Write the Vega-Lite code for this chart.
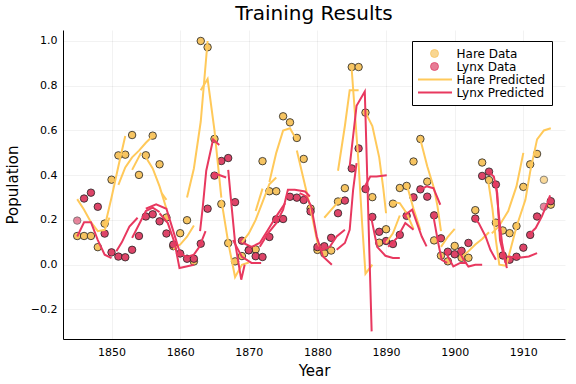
{
  "$schema": "https://vega.github.io/schema/vega-lite/v6.json",
  "width": 502,
  "height": 309,
  "autosize": "none",
  "padding": {"left": 63, "top": 30, "right": 11, "bottom": 45},
  "title": {"text": "Training Results", "fontSize": 20, "fontWeight": "normal", "font": "DejaVu Sans", "offset": 6, "color": "#000"},
  "config": {
    "view": {"stroke": null},
    "font": "DejaVu Sans",
    "axis": {
      "labelFont": "DejaVu Sans", "titleFont": "DejaVu Sans",
      "labelFontSize": 11, "titleFontSize": 15, "titleFontWeight": "normal",
      "labelColor": "#000", "titleColor": "#000",
      "domainColor": "#000", "domainWidth": 1,
      "ticks": false,
      "gridColor": "#000", "gridOpacity": 0.1, "gridWidth": 0.5
    }
  },
  "datasets": {
    "obs": [
      {"Year":1845,"Value":0.1283,"Series":"Hare Data"},{"Year":1846,"Value":0.1284,"Series":"Hare Data"},{"Year":1847,"Value":0.1285,"Series":"Hare Data"},{"Year":1848,"Value":0.0785,"Series":"Hare Data"},{"Year":1849,"Value":0.1837,"Series":"Hare Data"},{"Year":1850,"Value":0.380,"Series":"Hare Data"},{"Year":1851,"Value":0.4887,"Series":"Hare Data"},{"Year":1852,"Value":0.4919,"Series":"Hare Data"},{"Year":1853,"Value":0.5796,"Series":"Hare Data"},{"Year":1854,"Value":0.4014,"Series":"Hare Data"},{"Year":1855,"Value":0.4892,"Series":"Hare Data"},{"Year":1856,"Value":0.5769,"Series":"Hare Data"},{"Year":1857,"Value":0.4488,"Series":"Hare Data"},{"Year":1858,"Value":0.2109,"Series":"Hare Data"},{"Year":1859,"Value":0.0828,"Series":"Hare Data"},{"Year":1860,"Value":0.1408,"Series":"Hare Data"},{"Year":1861,"Value":0.1988,"Series":"Hare Data"},{"Year":1862,"Value":0.0143,"Series":"Hare Data"},{"Year":1863,"Value":1.0,"Series":"Hare Data"},{"Year":1864,"Value":0.9719,"Series":"Hare Data"},{"Year":1865,"Value":0.5621,"Series":"Hare Data"},{"Year":1866,"Value":0.2713,"Series":"Hare Data"},{"Year":1867,"Value":0.0966,"Series":"Hare Data"},{"Year":1868,"Value":0.0149,"Series":"Hare Data"},{"Year":1869,"Value":0.0387,"Series":"Hare Data"},{"Year":1870,"Value":0.0652,"Series":"Hare Data"},{"Year":1871,"Value":0.0684,"Series":"Hare Data"},{"Year":1872,"Value":0.4628,"Series":"Hare Data"},{"Year":1873,"Value":0.3283,"Series":"Hare Data"},{"Year":1874,"Value":0.3284,"Series":"Hare Data"},{"Year":1875,"Value":0.6633,"Series":"Hare Data"},{"Year":1876,"Value":0.6362,"Series":"Hare Data"},{"Year":1877,"Value":0.5667,"Series":"Hare Data"},{"Year":1878,"Value":0.4728,"Series":"Hare Data"},{"Year":1879,"Value":0.2510,"Series":"Hare Data"},{"Year":1880,"Value":0.0662,"Series":"Hare Data"},{"Year":1881,"Value":0.0507,"Series":"Hare Data"},{"Year":1882,"Value":0.0633,"Series":"Hare Data"},{"Year":1883,"Value":0.2825,"Series":"Hare Data"},{"Year":1884,"Value":0.3420,"Series":"Hare Data"},{"Year":1885,"Value":0.8834,"Series":"Hare Data"},{"Year":1886,"Value":0.8835,"Series":"Hare Data"},{"Year":1887,"Value":0.6799,"Series":"Hare Data"},{"Year":1888,"Value":0.3020,"Series":"Hare Data"},{"Year":1889,"Value":0.0985,"Series":"Hare Data"},{"Year":1890,"Value":0.1585,"Series":"Hare Data"},{"Year":1891,"Value":0.2728,"Series":"Hare Data"},{"Year":1892,"Value":0.3429,"Series":"Hare Data"},{"Year":1893,"Value":0.3523,"Series":"Hare Data"},{"Year":1894,"Value":0.4612,"Series":"Hare Data"},{"Year":1895,"Value":0.5621,"Series":"Hare Data"},{"Year":1896,"Value":0.3714,"Series":"Hare Data"},{"Year":1897,"Value":0.1087,"Series":"Hare Data"},{"Year":1898,"Value":0.0404,"Series":"Hare Data"},{"Year":1899,"Value":0.0151,"Series":"Hare Data"},{"Year":1900,"Value":0.0840,"Series":"Hare Data"},{"Year":1901,"Value":0.0309,"Series":"Hare Data"},{"Year":1902,"Value":0.0310,"Series":"Hare Data"},{"Year":1903,"Value":0.2438,"Series":"Hare Data"},{"Year":1904,"Value":0.4567,"Series":"Hare Data"},{"Year":1905,"Value":0.3785,"Series":"Hare Data"},{"Year":1906,"Value":0.1879,"Series":"Hare Data"},{"Year":1907,"Value":0.1531,"Series":"Hare Data"},{"Year":1908,"Value":0.1411,"Series":"Hare Data"},{"Year":1909,"Value":0.1726,"Series":"Hare Data"},{"Year":1910,"Value":0.3479,"Series":"Hare Data"},{"Year":1911,"Value":0.4486,"Series":"Hare Data"},{"Year":1912,"Value":0.4951,"Series":"Hare Data"},{"Year":1913,"Value":0.3794,"Series":"Hare Data"},{"Year":1914,"Value":0.2684,"Series":"Hare Data"},
      {"Year":1845,"Value":0.1971,"Series":"Lynx Data"},{"Year":1846,"Value":0.2958,"Series":"Lynx Data"},{"Year":1847,"Value":0.3220,"Series":"Lynx Data"},{"Year":1848,"Value":0.2589,"Series":"Lynx Data"},{"Year":1849,"Value":0.1391,"Series":"Lynx Data"},{"Year":1850,"Value":0.0552,"Series":"Lynx Data"},{"Year":1851,"Value":0.0364,"Series":"Lynx Data"},{"Year":1852,"Value":0.0333,"Series":"Lynx Data"},{"Year":1853,"Value":0.0666,"Series":"Lynx Data"},{"Year":1854,"Value":0.1284,"Series":"Lynx Data"},{"Year":1855,"Value":0.2156,"Series":"Lynx Data"},{"Year":1856,"Value":0.2252,"Series":"Lynx Data"},{"Year":1857,"Value":0.1938,"Series":"Lynx Data"},{"Year":1858,"Value":0.1395,"Series":"Lynx Data"},{"Year":1859,"Value":0.0897,"Series":"Lynx Data"},{"Year":1860,"Value":0.0501,"Series":"Lynx Data"},{"Year":1861,"Value":0.0267,"Series":"Lynx Data"},{"Year":1862,"Value":0.0268,"Series":"Lynx Data"},{"Year":1863,"Value":0.0939,"Series":"Lynx Data"},{"Year":1864,"Value":0.2504,"Series":"Lynx Data"},{"Year":1865,"Value":0.3982,"Series":"Lynx Data"},{"Year":1866,"Value":0.4636,"Series":"Lynx Data"},{"Year":1867,"Value":0.4767,"Series":"Lynx Data"},{"Year":1868,"Value":0.2796,"Series":"Lynx Data"},{"Year":1869,"Value":0.1074,"Series":"Lynx Data"},{"Year":1870,"Value":0.0644,"Series":"Lynx Data"},{"Year":1871,"Value":0.0380,"Series":"Lynx Data"},{"Year":1872,"Value":0.0345,"Series":"Lynx Data"},{"Year":1873,"Value":0.1239,"Series":"Lynx Data"},{"Year":1874,"Value":0.2028,"Series":"Lynx Data"},{"Year":1875,"Value":0.2043,"Series":"Lynx Data"},{"Year":1876,"Value":0.3036,"Series":"Lynx Data"},{"Year":1877,"Value":0.2998,"Series":"Lynx Data"},{"Year":1878,"Value":0.2892,"Series":"Lynx Data"},{"Year":1879,"Value":0.2380,"Series":"Lynx Data"},{"Year":1880,"Value":0.0788,"Series":"Lynx Data"},{"Year":1881,"Value":0.0825,"Series":"Lynx Data"},{"Year":1882,"Value":0.1201,"Series":"Lynx Data"},{"Year":1883,"Value":0.2302,"Series":"Lynx Data"},{"Year":1884,"Value":0.2867,"Series":"Lynx Data"},{"Year":1885,"Value":0.4303,"Series":"Lynx Data"},{"Year":1886,"Value":0.5198,"Series":"Lynx Data"},{"Year":1887,"Value":0.3384,"Series":"Lynx Data"},{"Year":1888,"Value":0.2135,"Series":"Lynx Data"},{"Year":1889,"Value":0.1471,"Series":"Lynx Data"},{"Year":1890,"Value":0.1059,"Series":"Lynx Data"},{"Year":1891,"Value":0.0925,"Series":"Lynx Data"},{"Year":1892,"Value":0.1335,"Series":"Lynx Data"},{"Year":1893,"Value":0.2183,"Series":"Lynx Data"},{"Year":1894,"Value":0.3013,"Series":"Lynx Data"},{"Year":1895,"Value":0.3368,"Series":"Lynx Data"},{"Year":1896,"Value":0.3042,"Series":"Lynx Data"},{"Year":1897,"Value":0.2206,"Series":"Lynx Data"},{"Year":1898,"Value":0.1180,"Series":"Lynx Data"},{"Year":1899,"Value":0.0580,"Series":"Lynx Data"},{"Year":1900,"Value":0.0467,"Series":"Lynx Data"},{"Year":1901,"Value":0.0620,"Series":"Lynx Data"},{"Year":1902,"Value":0.0973,"Series":"Lynx Data"},{"Year":1903,"Value":0.2062,"Series":"Lynx Data"},{"Year":1904,"Value":0.3968,"Series":"Lynx Data"},{"Year":1905,"Value":0.4160,"Series":"Lynx Data"},{"Year":1906,"Value":0.3583,"Series":"Lynx Data"},{"Year":1907,"Value":0.0413,"Series":"Lynx Data"},{"Year":1908,"Value":0.0223,"Series":"Lynx Data"},{"Year":1909,"Value":0.0356,"Series":"Lynx Data"},{"Year":1910,"Value":0.0763,"Series":"Lynx Data"},{"Year":1911,"Value":0.1333,"Series":"Lynx Data"},{"Year":1912,"Value":0.2154,"Series":"Lynx Data"},{"Year":1913,"Value":0.2591,"Series":"Lynx Data"},{"Year":1914,"Value":0.2840,"Series":"Lynx Data"}
    ],
    "pred": [
      {"seg":"h1","Year":1845,"Value":0.293,"Series":"Hare Predicted"},{"seg":"h1","Year":1846,"Value":0.246,"Series":"Hare Predicted"},{"seg":"h1","Year":1847,"Value":0.19,"Series":"Hare Predicted"},{"seg":"h1","Year":1848,"Value":0.15,"Series":"Hare Predicted"},{"seg":"h1","Year":1849,"Value":0.156,"Series":"Hare Predicted"},{"seg":"h1","Year":1849.7,"Value":0.21,"Series":"Hare Predicted"},
      {"seg":"h2","Year":1849,"Value":0.17,"Series":"Hare Predicted"},{"seg":"h2","Year":1850,"Value":0.30,"Series":"Hare Predicted"},{"seg":"h2","Year":1851,"Value":0.44,"Series":"Hare Predicted"},{"seg":"h2","Year":1852,"Value":0.575,"Series":"Hare Predicted"},
      {"seg":"h3","Year":1851,"Value":0.357,"Series":"Hare Predicted"},{"seg":"h3","Year":1852,"Value":0.435,"Series":"Hare Predicted"},{"seg":"h3","Year":1853,"Value":0.48,"Series":"Hare Predicted"},{"seg":"h3","Year":1854,"Value":0.51,"Series":"Hare Predicted"},{"seg":"h3","Year":1855,"Value":0.545,"Series":"Hare Predicted"},{"seg":"h3","Year":1856,"Value":0.575,"Series":"Hare Predicted"},
      {"seg":"h3b","Year":1853,"Value":0.424,"Series":"Hare Predicted"},{"seg":"h3b","Year":1854.3,"Value":0.50,"Series":"Hare Predicted"},
      {"seg":"h4","Year":1855,"Value":0.48,"Series":"Hare Predicted"},{"seg":"h4","Year":1856,"Value":0.43,"Series":"Hare Predicted"},{"seg":"h4","Year":1857,"Value":0.35,"Series":"Hare Predicted"},{"seg":"h4","Year":1858,"Value":0.25,"Series":"Hare Predicted"},
      {"seg":"h5","Year":1857.3,"Value":0.32,"Series":"Hare Predicted"},{"seg":"h5","Year":1858,"Value":0.29,"Series":"Hare Predicted"},
      {"seg":"h6","Year":1859,"Value":0.07,"Series":"Hare Predicted"},{"seg":"h6","Year":1860,"Value":0.09,"Series":"Hare Predicted"},{"seg":"h6","Year":1861,"Value":0.125,"Series":"Hare Predicted"},{"seg":"h6","Year":1862,"Value":0.175,"Series":"Hare Predicted"},
      {"seg":"h7","Year":1861,"Value":0.30,"Series":"Hare Predicted"},{"seg":"h7","Year":1862,"Value":0.43,"Series":"Hare Predicted"},{"seg":"h7","Year":1863,"Value":0.64,"Series":"Hare Predicted"},{"seg":"h7","Year":1864,"Value":1.0,"Series":"Hare Predicted"},
      {"seg":"h8","Year":1863,"Value":0.78,"Series":"Hare Predicted"},{"seg":"h8","Year":1864,"Value":0.83,"Series":"Hare Predicted"},{"seg":"h8","Year":1865,"Value":0.60,"Series":"Hare Predicted"},{"seg":"h8","Year":1866,"Value":0.30,"Series":"Hare Predicted"},
      {"seg":"h9","Year":1866,"Value":0.29,"Series":"Hare Predicted"},{"seg":"h9","Year":1867,"Value":0.10,"Series":"Hare Predicted"},{"seg":"h9","Year":1868,"Value":-0.055,"Series":"Hare Predicted"},{"seg":"h9","Year":1869,"Value":0.0,"Series":"Hare Predicted"},{"seg":"h9","Year":1870,"Value":0.01,"Series":"Hare Predicted"},
      {"seg":"h10","Year":1869,"Value":0.10,"Series":"Hare Predicted"},{"seg":"h10","Year":1870,"Value":0.14,"Series":"Hare Predicted"},{"seg":"h10","Year":1871,"Value":0.20,"Series":"Hare Predicted"},{"seg":"h10","Year":1872,"Value":0.28,"Series":"Hare Predicted"},{"seg":"h10","Year":1873,"Value":0.36,"Series":"Hare Predicted"},{"seg":"h10","Year":1874,"Value":0.39,"Series":"Hare Predicted"},
      {"seg":"h10b","Year":1871,"Value":0.24,"Series":"Hare Predicted"},{"seg":"h10b","Year":1872,"Value":0.34,"Series":"Hare Predicted"},
      {"seg":"h11","Year":1873,"Value":0.37,"Series":"Hare Predicted"},{"seg":"h11","Year":1874,"Value":0.50,"Series":"Hare Predicted"},{"seg":"h11","Year":1875,"Value":0.60,"Series":"Hare Predicted"},{"seg":"h11","Year":1876,"Value":0.61,"Series":"Hare Predicted"},{"seg":"h11","Year":1877,"Value":0.555,"Series":"Hare Predicted"},
      {"seg":"h12","Year":1877,"Value":0.51,"Series":"Hare Predicted"},{"seg":"h12","Year":1878,"Value":0.38,"Series":"Hare Predicted"},{"seg":"h12","Year":1879,"Value":0.25,"Series":"Hare Predicted"},{"seg":"h12","Year":1880,"Value":0.10,"Series":"Hare Predicted"},{"seg":"h12","Year":1880.5,"Value":0.07,"Series":"Hare Predicted"},
      {"seg":"h13","Year":1881,"Value":0.21,"Series":"Hare Predicted"},{"seg":"h13","Year":1882,"Value":0.245,"Series":"Hare Predicted"},{"seg":"h13","Year":1883,"Value":0.28,"Series":"Hare Predicted"},{"seg":"h13","Year":1883.5,"Value":0.30,"Series":"Hare Predicted"},
      {"seg":"h14","Year":1883,"Value":0.42,"Series":"Hare Predicted"},{"seg":"h14","Year":1884,"Value":0.62,"Series":"Hare Predicted"},{"seg":"h14","Year":1884.7,"Value":0.78,"Series":"Hare Predicted"},{"seg":"h14","Year":1886,"Value":0.78,"Series":"Hare Predicted"},
      {"seg":"h15","Year":1885,"Value":0.87,"Series":"Hare Predicted"},{"seg":"h15","Year":1886,"Value":0.45,"Series":"Hare Predicted"},{"seg":"h15","Year":1886.5,"Value":0.19,"Series":"Hare Predicted"},{"seg":"h15","Year":1887,"Value":-0.04,"Series":"Hare Predicted"},{"seg":"h15","Year":1888,"Value":0.0,"Series":"Hare Predicted"},
      {"seg":"h16","Year":1887,"Value":0.68,"Series":"Hare Predicted"},{"seg":"h16","Year":1888,"Value":0.62,"Series":"Hare Predicted"},{"seg":"h16","Year":1889,"Value":0.48,"Series":"Hare Predicted"},{"seg":"h16","Year":1889.6,"Value":0.34,"Series":"Hare Predicted"},{"seg":"h16","Year":1890,"Value":0.23,"Series":"Hare Predicted"},
      {"seg":"h17","Year":1890,"Value":0.097,"Series":"Hare Predicted"},{"seg":"h17","Year":1891,"Value":0.14,"Series":"Hare Predicted"},{"seg":"h17","Year":1892,"Value":0.22,"Series":"Hare Predicted"},
      {"seg":"h18","Year":1891,"Value":0.28,"Series":"Hare Predicted"},{"seg":"h18","Year":1892,"Value":0.275,"Series":"Hare Predicted"},{"seg":"h18","Year":1893,"Value":0.23,"Series":"Hare Predicted"},{"seg":"h18","Year":1894,"Value":0.16,"Series":"Hare Predicted"},
      {"seg":"h19","Year":1893,"Value":0.36,"Series":"Hare Predicted"},{"seg":"h19","Year":1894,"Value":0.25,"Series":"Hare Predicted"},{"seg":"h19","Year":1895,"Value":0.155,"Series":"Hare Predicted"},
      {"seg":"h20","Year":1895,"Value":0.56,"Series":"Hare Predicted"},{"seg":"h20","Year":1896,"Value":0.44,"Series":"Hare Predicted"},{"seg":"h20","Year":1897,"Value":0.34,"Series":"Hare Predicted"},{"seg":"h20","Year":1897.5,"Value":0.26,"Series":"Hare Predicted"},{"seg":"h20","Year":1898,"Value":0.15,"Series":"Hare Predicted"},
      {"seg":"h21","Year":1898,"Value":0.08,"Series":"Hare Predicted"},{"seg":"h21","Year":1899,"Value":0.125,"Series":"Hare Predicted"},{"seg":"h21","Year":1900,"Value":0.16,"Series":"Hare Predicted"},
      {"seg":"h22","Year":1901,"Value":0.035,"Series":"Hare Predicted"},{"seg":"h22","Year":1902,"Value":0.06,"Series":"Hare Predicted"},{"seg":"h22","Year":1903,"Value":0.09,"Series":"Hare Predicted"},{"seg":"h22","Year":1904,"Value":0.115,"Series":"Hare Predicted"},{"seg":"h22","Year":1905,"Value":0.145,"Series":"Hare Predicted"},
      {"seg":"h23","Year":1905.4,"Value":0.14,"Series":"Hare Predicted"},{"seg":"h23","Year":1906.4,"Value":0.17,"Series":"Hare Predicted"},{"seg":"h23","Year":1907.8,"Value":0.24,"Series":"Hare Predicted"},{"seg":"h23","Year":1909,"Value":0.35,"Series":"Hare Predicted"},{"seg":"h23","Year":1910,"Value":0.50,"Series":"Hare Predicted"},
      {"seg":"h24","Year":1904.9,"Value":0.37,"Series":"Hare Predicted"},{"seg":"h24","Year":1905.5,"Value":0.25,"Series":"Hare Predicted"},{"seg":"h24","Year":1906,"Value":0.11,"Series":"Hare Predicted"},{"seg":"h24","Year":1906.5,"Value":0.0,"Series":"Hare Predicted"},{"seg":"h24","Year":1907.5,"Value":-0.005,"Series":"Hare Predicted"},
      {"seg":"h25","Year":1907.5,"Value":-0.005,"Series":"Hare Predicted"},{"seg":"h25","Year":1909,"Value":0.17,"Series":"Hare Predicted"},{"seg":"h25","Year":1910.3,"Value":0.29,"Series":"Hare Predicted"},{"seg":"h25","Year":1911,"Value":0.416,"Series":"Hare Predicted"},{"seg":"h25","Year":1912,"Value":0.56,"Series":"Hare Predicted"},{"seg":"h25","Year":1913,"Value":0.60,"Series":"Hare Predicted"},{"seg":"h25","Year":1914,"Value":0.61,"Series":"Hare Predicted"},
      {"seg":"l1","Year":1845,"Value":0.126,"Series":"Lynx Predicted"},{"seg":"l1","Year":1846,"Value":0.19,"Series":"Lynx Predicted"},{"seg":"l1","Year":1847,"Value":0.19,"Series":"Lynx Predicted"},{"seg":"l1","Year":1848,"Value":0.11,"Series":"Lynx Predicted"},{"seg":"l1","Year":1849,"Value":0.045,"Series":"Lynx Predicted"},{"seg":"l1","Year":1850,"Value":0.03,"Series":"Lynx Predicted"},
      {"seg":"l2","Year":1850.7,"Value":0.06,"Series":"Lynx Predicted"},{"seg":"l2","Year":1851.5,"Value":0.10,"Series":"Lynx Predicted"},{"seg":"l2","Year":1852.6,"Value":0.17,"Series":"Lynx Predicted"},{"seg":"l2","Year":1853.8,"Value":0.21,"Series":"Lynx Predicted"},
      {"seg":"l3","Year":1853,"Value":0.12,"Series":"Lynx Predicted"},{"seg":"l3","Year":1854,"Value":0.18,"Series":"Lynx Predicted"},{"seg":"l3","Year":1855,"Value":0.24,"Series":"Lynx Predicted"},{"seg":"l3","Year":1856,"Value":0.255,"Series":"Lynx Predicted"},{"seg":"l3","Year":1857,"Value":0.235,"Series":"Lynx Predicted"},
      {"seg":"l4","Year":1855,"Value":0.25,"Series":"Lynx Predicted"},{"seg":"l4","Year":1856.5,"Value":0.27,"Series":"Lynx Predicted"},{"seg":"l4","Year":1858,"Value":0.25,"Series":"Lynx Predicted"},{"seg":"l4","Year":1859,"Value":0.15,"Series":"Lynx Predicted"},{"seg":"l4","Year":1860,"Value":0.05,"Series":"Lynx Predicted"},{"seg":"l4","Year":1861,"Value":0.035,"Series":"Lynx Predicted"},{"seg":"l4","Year":1862,"Value":0.045,"Series":"Lynx Predicted"},{"seg":"l4","Year":1862.8,"Value":0.08,"Series":"Lynx Predicted"},{"seg":"l4","Year":1863.7,"Value":0.15,"Series":"Lynx Predicted"},
      {"seg":"l5","Year":1857,"Value":0.23,"Series":"Lynx Predicted"},{"seg":"l5","Year":1858.2,"Value":0.186,"Series":"Lynx Predicted"},{"seg":"l5","Year":1859.2,"Value":0.097,"Series":"Lynx Predicted"},{"seg":"l5","Year":1859.9,"Value":-0.015,"Series":"Lynx Predicted"},{"seg":"l5","Year":1860.9,"Value":-0.008,"Series":"Lynx Predicted"},{"seg":"l5","Year":1862,"Value":0.0,"Series":"Lynx Predicted"},
      {"seg":"l6","Year":1862.9,"Value":0.15,"Series":"Lynx Predicted"},{"seg":"l6","Year":1863.3,"Value":0.26,"Series":"Lynx Predicted"},{"seg":"l6","Year":1863.8,"Value":0.42,"Series":"Lynx Predicted"},{"seg":"l6","Year":1864.8,"Value":0.56,"Series":"Lynx Predicted"},{"seg":"l6","Year":1865.7,"Value":0.535,"Series":"Lynx Predicted"},
      {"seg":"l7","Year":1864.8,"Value":0.41,"Series":"Lynx Predicted"},{"seg":"l7","Year":1865.8,"Value":0.40,"Series":"Lynx Predicted"},{"seg":"l7","Year":1866.7,"Value":0.39,"Series":"Lynx Predicted"},
      {"seg":"l8","Year":1867,"Value":0.424,"Series":"Lynx Predicted"},{"seg":"l8","Year":1867.5,"Value":0.26,"Series":"Lynx Predicted"},{"seg":"l8","Year":1868,"Value":0.10,"Series":"Lynx Predicted"},{"seg":"l8","Year":1868.9,"Value":-0.067,"Series":"Lynx Predicted"},{"seg":"l8","Year":1869.4,"Value":0.0,"Series":"Lynx Predicted"},
      {"seg":"l9","Year":1867.7,"Value":0.11,"Series":"Lynx Predicted"},{"seg":"l9","Year":1869,"Value":0.035,"Series":"Lynx Predicted"},{"seg":"l9","Year":1870.4,"Value":0.008,"Series":"Lynx Predicted"},{"seg":"l9","Year":1871.8,"Value":0.008,"Series":"Lynx Predicted"},
      {"seg":"l10","Year":1869.2,"Value":0.097,"Series":"Lynx Predicted"},{"seg":"l10","Year":1870.4,"Value":0.08,"Series":"Lynx Predicted"},{"seg":"l10","Year":1871.6,"Value":0.097,"Series":"Lynx Predicted"},{"seg":"l10","Year":1872.8,"Value":0.156,"Series":"Lynx Predicted"},{"seg":"l10","Year":1874,"Value":0.216,"Series":"Lynx Predicted"},{"seg":"l10","Year":1875.3,"Value":0.275,"Series":"Lynx Predicted"},
      {"seg":"l11","Year":1871.6,"Value":0.08,"Series":"Lynx Predicted"},{"seg":"l11","Year":1872.8,"Value":0.14,"Series":"Lynx Predicted"},{"seg":"l11","Year":1874,"Value":0.186,"Series":"Lynx Predicted"},{"seg":"l11","Year":1875,"Value":0.246,"Series":"Lynx Predicted"},{"seg":"l11","Year":1875.5,"Value":0.31,"Series":"Lynx Predicted"},{"seg":"l11","Year":1875.7,"Value":0.335,"Series":"Lynx Predicted"},{"seg":"l11","Year":1876.7,"Value":0.335,"Series":"Lynx Predicted"},{"seg":"l11","Year":1878.2,"Value":0.327,"Series":"Lynx Predicted"},{"seg":"l11","Year":1878.9,"Value":0.305,"Series":"Lynx Predicted"},
      {"seg":"l12","Year":1877.4,"Value":0.32,"Series":"Lynx Predicted"},{"seg":"l12","Year":1878.4,"Value":0.305,"Series":"Lynx Predicted"},{"seg":"l12","Year":1879.1,"Value":0.26,"Series":"Lynx Predicted"},{"seg":"l12","Year":1879.9,"Value":0.126,"Series":"Lynx Predicted"},{"seg":"l12","Year":1880.8,"Value":0.037,"Series":"Lynx Predicted"},{"seg":"l12","Year":1882.1,"Value":0.0,"Series":"Lynx Predicted"},
      {"seg":"l13","Year":1879.9,"Value":0.08,"Series":"Lynx Predicted"},{"seg":"l13","Year":1880.8,"Value":0.067,"Series":"Lynx Predicted"},{"seg":"l13","Year":1881.8,"Value":0.08,"Series":"Lynx Predicted"},{"seg":"l13","Year":1882.8,"Value":0.126,"Series":"Lynx Predicted"},{"seg":"l13","Year":1884,"Value":0.156,"Series":"Lynx Predicted"},
      {"seg":"l14","Year":1882.8,"Value":0.067,"Series":"Lynx Predicted"},{"seg":"l14","Year":1884,"Value":0.097,"Series":"Lynx Predicted"},{"seg":"l14","Year":1884.7,"Value":0.156,"Series":"Lynx Predicted"},{"seg":"l14","Year":1885.2,"Value":0.335,"Series":"Lynx Predicted"},{"seg":"l14","Year":1885.7,"Value":0.454,"Series":"Lynx Predicted"},
      {"seg":"l15","Year":1884.7,"Value":0.44,"Series":"Lynx Predicted"},{"seg":"l15","Year":1885.7,"Value":0.71,"Series":"Lynx Predicted"},{"seg":"l15","Year":1886.9,"Value":0.774,"Series":"Lynx Predicted"},{"seg":"l15","Year":1887.9,"Value":-0.298,"Series":"Lynx Predicted"},
      {"seg":"l16","Year":1886.9,"Value":0.35,"Series":"Lynx Predicted"},{"seg":"l16","Year":1887.7,"Value":0.394,"Series":"Lynx Predicted"},{"seg":"l16","Year":1888.6,"Value":0.394,"Series":"Lynx Predicted"},{"seg":"l16","Year":1890.1,"Value":0.40,"Series":"Lynx Predicted"},
      {"seg":"l17","Year":1887.8,"Value":0.216,"Series":"Lynx Predicted"},{"seg":"l17","Year":1888.7,"Value":0.08,"Series":"Lynx Predicted"},{"seg":"l17","Year":1889.9,"Value":0.04,"Series":"Lynx Predicted"},{"seg":"l17","Year":1891,"Value":0.03,"Series":"Lynx Predicted"},{"seg":"l17","Year":1892,"Value":0.03,"Series":"Lynx Predicted"},
      {"seg":"l18","Year":1890.3,"Value":0.08,"Series":"Lynx Predicted"},{"seg":"l18","Year":1891.6,"Value":0.12,"Series":"Lynx Predicted"},{"seg":"l18","Year":1892.8,"Value":0.186,"Series":"Lynx Predicted"},{"seg":"l18","Year":1894,"Value":0.156,"Series":"Lynx Predicted"},
      {"seg":"l19","Year":1892.5,"Value":0.216,"Series":"Lynx Predicted"},{"seg":"l19","Year":1893.8,"Value":0.246,"Series":"Lynx Predicted"},{"seg":"l19","Year":1894.5,"Value":0.186,"Series":"Lynx Predicted"},{"seg":"l19","Year":1895.2,"Value":0.126,"Series":"Lynx Predicted"},{"seg":"l19","Year":1895.9,"Value":0.082,"Series":"Lynx Predicted"},
      {"seg":"l20","Year":1895,"Value":0.335,"Series":"Lynx Predicted"},{"seg":"l20","Year":1895.9,"Value":0.35,"Series":"Lynx Predicted"},{"seg":"l20","Year":1896.9,"Value":0.342,"Series":"Lynx Predicted"},{"seg":"l20","Year":1897.4,"Value":0.305,"Series":"Lynx Predicted"},{"seg":"l20","Year":1897.9,"Value":0.268,"Series":"Lynx Predicted"},
      {"seg":"l21","Year":1896.9,"Value":0.216,"Series":"Lynx Predicted"},{"seg":"l21","Year":1897.6,"Value":0.097,"Series":"Lynx Predicted"},{"seg":"l21","Year":1898.1,"Value":0.022,"Series":"Lynx Predicted"},{"seg":"l21","Year":1898.9,"Value":0.008,"Series":"Lynx Predicted"},
      {"seg":"l22","Year":1898.6,"Value":0.06,"Series":"Lynx Predicted"},{"seg":"l22","Year":1899.8,"Value":-0.008,"Series":"Lynx Predicted"},{"seg":"l22","Year":1900.8,"Value":0.008,"Series":"Lynx Predicted"},{"seg":"l22","Year":1901.8,"Value":0.008,"Series":"Lynx Predicted"},
      {"seg":"l23","Year":1900.5,"Value":0.067,"Series":"Lynx Predicted"},{"seg":"l23","Year":1901.3,"Value":0.022,"Series":"Lynx Predicted"},{"seg":"l23","Year":1902,"Value":-0.008,"Series":"Lynx Predicted"},{"seg":"l23","Year":1903,"Value":0.0,"Series":"Lynx Predicted"},{"seg":"l23","Year":1904,"Value":0.0,"Series":"Lynx Predicted"},
      {"seg":"l24","Year":1902.7,"Value":0.21,"Series":"Lynx Predicted"},{"seg":"l24","Year":1903.5,"Value":0.186,"Series":"Lynx Predicted"},{"seg":"l24","Year":1904.5,"Value":0.126,"Series":"Lynx Predicted"},{"seg":"l24","Year":1905.2,"Value":0.067,"Series":"Lynx Predicted"},{"seg":"l24","Year":1906,"Value":0.022,"Series":"Lynx Predicted"},
      {"seg":"l25","Year":1904.9,"Value":0.416,"Series":"Lynx Predicted"},{"seg":"l25","Year":1905.7,"Value":0.394,"Series":"Lynx Predicted"},{"seg":"l25","Year":1906.2,"Value":0.32,"Series":"Lynx Predicted"},{"seg":"l25","Year":1906.6,"Value":0.11,"Series":"Lynx Predicted"},{"seg":"l25","Year":1907.4,"Value":0.008,"Series":"Lynx Predicted"},
      {"seg":"l26","Year":1906,"Value":0.365,"Series":"Lynx Predicted"},{"seg":"l26","Year":1906.4,"Value":0.23,"Series":"Lynx Predicted"},{"seg":"l26","Year":1906.9,"Value":0.097,"Series":"Lynx Predicted"},{"seg":"l26","Year":1907.6,"Value":-0.015,"Series":"Lynx Predicted"},
      {"seg":"l27","Year":1907.6,"Value":0.037,"Series":"Lynx Predicted"},{"seg":"l27","Year":1909.1,"Value":0.03,"Series":"Lynx Predicted"},{"seg":"l27","Year":1910.8,"Value":0.037,"Series":"Lynx Predicted"},{"seg":"l27","Year":1912,"Value":0.052,"Series":"Lynx Predicted"},
      {"seg":"l28","Year":1910.8,"Value":0.134,"Series":"Lynx Predicted"},{"seg":"l28","Year":1911.8,"Value":0.164,"Series":"Lynx Predicted"},{"seg":"l28","Year":1912.7,"Value":0.216,"Series":"Lynx Predicted"},{"seg":"l28","Year":1913.5,"Value":0.275,"Series":"Lynx Predicted"},{"seg":"l28","Year":1913.9,"Value":0.31,"Series":"Lynx Predicted"}
    ]
  },
  "encoding": {
    "x": {"field": "Year", "type": "quantitative", "scale": {"domain": [1842.93, 1916.07], "nice": false, "zero": false},
          "axis": {"title": "Year", "values": [1850, 1860, 1870, 1880, 1890, 1900, 1910], "format": "d", "labelPadding": 7, "titlePadding": 6}},
    "y": {"field": "Value", "type": "quantitative", "scale": {"domain": [-0.332, 1.049], "nice": false, "zero": false},
          "axis": {"title": "Population", "values": [-0.2, 0, 0.2, 0.4, 0.6, 0.8, 1.0], "format": ".1f", "labelPadding": 6, "titlePadding": 10}},
    "color": {"field": "Series", "type": "nominal",
      "scale": {"domain": ["Hare Data", "Lynx Data", "Hare Predicted", "Lynx Predicted"], "range": ["#F6C462", "#DD4468", "#FFC95A", "#E8385F"]},
      "legend": {
        "title": null, "orient": "none", "legendX": 349, "legendY": 11,
        "strokeColor": "#000", "fillColor": "#fff", "padding": 6,
        "labelFontSize": 12, "labelFont": "DejaVu Sans", "labelColor": "#000", "labelOffset": 16,
        "clipHeight": 13, "rowPadding": 0, "symbolOffset": 10.5,
        "encode": {
          "symbols": {"update": {
            "shape": {"signal": "indexof('' + (datum.value || datum), 'Data') >= 0 ? 'circle' : 'stroke'"},
            "size": {"signal": "indexof('' + (datum.value || datum), 'Data') >= 0 ? 64 : 1225"},
            "fill": {"signal": "indexof('' + (datum.value || datum), 'Data') >= 0 ? scale('color', datum.value) : 'transparent'"},
            "fillOpacity": {"signal": "indexof('' + (datum.value || datum), 'Data') >= 0 ? 0.7 : 1"},
            "stroke": {"signal": "indexof('' + (datum.value || datum), 'Data') >= 0 ? '#222222' : scale('color', datum.value)"},
            "strokeWidth": {"signal": "indexof('' + (datum.value || datum), 'Data') >= 0 ? 0.8 : 2"},
            "opacity": {"value": 1}
          }}
        }
      }
    }
  },
  "layer": [
    {
      "data": {"name": "obs"},
      "mark": {"type": "point", "filled": true, "size": 56, "stroke": "#222", "strokeWidth": 0.8, "strokeOpacity": 1},
      "encoding": {
        "opacity": {"condition": {"test": "(datum.Year == 1845 && datum.Series == 'Lynx Data') || datum.Year == 1913", "value": 0.65}, "value": 1}
      }
    },
    {
      "data": {"name": "pred"},
      "mark": {"type": "line", "strokeWidth": 2},
      "encoding": {"detail": {"field": "seg", "type": "nominal"}}
    }
  ]
}
